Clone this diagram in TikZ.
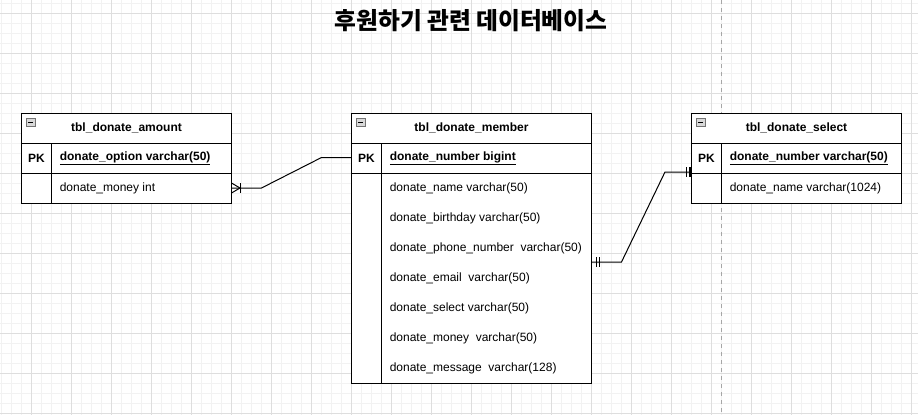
\documentclass[tikz,border=0pt]{standalone}
\usepackage{fontspec}
\setmainfont{Liberation Sans}
\newfontfamily\krfont{Noto Sans CJK KR}
\begin{document}
\begin{tikzpicture}[x=0.75pt,y=-0.75pt,
  minorgrid/.style={draw=black!5,line width=0.75pt},
  majorgrid/.style={draw=black!13,line width=0.75pt},
  tbl/.style={draw=black,line width=0.75pt,fill=white},
  tline/.style={draw=black,line width=0.75pt},
  hdrtext/.style={font=\fontsize{9}{11}\selectfont\bfseries,inner sep=0pt},
  pktext/.style={font=\fontsize{9}{11}\selectfont\bfseries,inner sep=0pt},
  fieldtext/.style={font=\fontsize{9}{11}\selectfont,inner sep=0pt,anchor=west},
  pkfield/.style={font=\fontsize{9}{11}\selectfont\bfseries,inner sep=0pt,anchor=west},
  conn/.style={draw=black,line width=0.75pt},
  minusbox/.style={draw=black!55,fill=black!15,line width=0.75pt},
]
\useasboundingbox (0,0) rectangle (918,415);
\fill[white] (0,0) rectangle (918,415);
% grid
\foreach \i in {0,...,91} \draw[minorgrid] ({1.5+10*\i},0) -- ({1.5+10*\i},415);
\foreach \j in {0,...,41} \draw[minorgrid] (0,{3.3+10*\j}) -- (918,{3.3+10*\j});
\foreach \i in {0,...,22} \draw[majorgrid] ({31.5+40*\i},0) -- ({31.5+40*\i},415);
\foreach \j in {0,...,10} \draw[majorgrid] (0,{13.3+40*\j}) -- (918,{13.3+40*\j});
% page break line
\draw[draw=black!35,line width=0.75pt,dash pattern=on 3pt off 3pt] (721.5,0) -- (721.5,415);

% title
\node[font=\krfont\bfseries\fontsize{17.8}{20}\selectfont,inner sep=0pt] (title) at (471,21) {후원하기 관련 데이터베이스};

% ---- table 1: tbl_donate_amount
\draw[tbl] (21.5,113.3) rectangle (231.5,203.3);
\draw[tline] (21.5,143.3) -- (231.5,143.3);
\draw[tline] (21.5,173.3) -- (231.5,173.3);
\draw[tline] (51.5,143.3) -- (51.5,203.3);
\draw[minusbox] (26.5,118) rectangle (35,126.5);
\draw[line width=0.9pt] (28.3,122.3) -- (33.2,122.3);
\node[hdrtext] (amtH) at (126.5,128.3) {tbl\_donate\_amount};
\node[pktext] (amtPKl) at (36.5,158.3) {PK};
\node[pkfield] (amtPK) at (59.5,158.3) {\underline{donate\_option varchar(50)}};
\node[fieldtext] (amtF1) at (59.5,188.3) {donate\_money int};

% ---- table 2: tbl_donate_member
\draw[tbl] (351.5,113.3) rectangle (591.5,383.3);
\draw[tline] (351.5,143.3) -- (591.5,143.3);
\draw[tline] (351.5,173.3) -- (591.5,173.3);
\draw[tline] (381.5,143.3) -- (381.5,383.3);
\draw[minusbox] (356.5,118) rectangle (365,126.5);
\draw[line width=0.9pt] (358.3,122.3) -- (363.2,122.3);
\node[hdrtext] (memH) at (471.5,128.3) {tbl\_donate\_member};
\node[pktext] (memPKl) at (366.5,158.3) {PK};
\node[pkfield] (memPK) at (389.5,158.3) {\underline{donate\_number bigint}};
\node[fieldtext] (memF1) at (389.5,188.3) {donate\_name varchar(50)};
\node[fieldtext] (memF2) at (389.5,218.3) {donate\_birthday varchar(50)};
\node[fieldtext] (memF3) at (389.5,248.3) {donate\_phone\_number\ \ varchar(50)};
\node[fieldtext] (memF4) at (389.5,278.3) {donate\_email\ \ varchar(50)};
\node[fieldtext] (memF5) at (389.5,308.3) {donate\_select varchar(50)};
\node[fieldtext] (memF6) at (389.5,338.3) {donate\_money\ \ varchar(50)};
\node[fieldtext] (memF7) at (389.5,368.3) {donate\_message\ \ varchar(128)};

% ---- table 3: tbl_donate_select
\draw[tbl] (691.5,113.3) rectangle (901.5,203.3);
\draw[tline] (691.5,143.3) -- (901.5,143.3);
\draw[tline] (691.5,173.3) -- (901.5,173.3);
\draw[tline] (721.5,143.3) -- (721.5,203.3);
\draw[minusbox] (696.5,118) rectangle (705,126.5);
\draw[line width=0.9pt] (698.3,122.3) -- (703.2,122.3);
\node[hdrtext] (selH) at (796.5,128.3) {tbl\_donate\_select};
\node[pktext] (selPKl) at (706.5,158.3) {PK};
\node[pkfield] (selPK) at (729.5,158.3) {\underline{donate\_number varchar(50)}};
\node[fieldtext] (selF1) at (729.5,188.3) {donate\_name varchar(1024)};

% ---- connectors
\coordinate (e1a) at (231.5,188);
\coordinate (e1b) at (351.5,157.5);
\draw[conn] (e1a) -- (261.5,188) -- (321.5,157.5) -- (e1b);
% crow's foot (one or many) at table 1
\draw[conn] (231.5,183) -- (240,188) -- (231.5,193);
\draw[conn] (240.5,183) -- (240.5,193);

\coordinate (e2a) at (591.5,262);
\coordinate (e2b) at (691.5,172);
\draw[conn] (e2a) -- (621.5,262) -- (665,172) -- (e2b);
% mandatory one marks
\draw[conn] (596,257) -- (596,267);
\draw[conn] (599.5,257) -- (599.5,267);
\draw[conn] (686,167) -- (686,177);
\draw[line width=1.1pt] (689.8,167) -- (689.8,177);
\end{tikzpicture}
\end{document}
